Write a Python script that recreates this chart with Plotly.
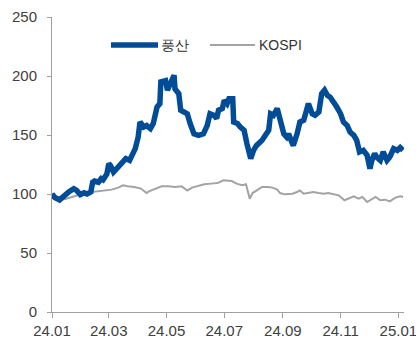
import plotly.graph_objects as go

# 풍산 (indexed)
ps_dates = ["2024-01-01","2024-01-04","2024-01-09","2024-01-12","2024-01-16","2024-01-19","2024-01-24","2024-01-27",
            "2024-01-31","2024-02-04","2024-02-07","2024-02-11","2024-02-13","2024-02-15","2024-02-19","2024-02-22",
            "2024-02-24","2024-02-28","2024-03-01","2024-03-03","2024-03-06","2024-03-09","2024-03-13","2024-03-16",
            "2024-03-19","2024-03-23","2024-03-26","2024-03-29","2024-04-01","2024-04-03","2024-04-07","2024-04-10",
            "2024-04-14","2024-04-17","2024-04-21","2024-04-24","2024-04-25","2024-04-30","2024-05-02","2024-05-05",
            "2024-05-09","2024-05-10","2024-05-14","2024-05-16","2024-05-19","2024-05-23","2024-05-26","2024-05-30",
            "2024-06-04","2024-06-09","2024-06-13","2024-06-16","2024-06-20","2024-06-23","2024-06-25","2024-06-29",
            "2024-07-01","2024-07-04","2024-07-06","2024-07-10","2024-07-11","2024-07-15","2024-07-18","2024-07-22",
            "2024-07-25","2024-07-29","2024-08-01","2024-08-04","2024-08-10","2024-08-13","2024-08-17","2024-08-19",
            "2024-08-22","2024-08-26","2024-08-29","2024-09-02","2024-09-05","2024-09-07","2024-09-11","2024-09-12",
            "2024-09-16","2024-09-19","2024-09-23","2024-09-26","2024-09-28","2024-10-02","2024-10-05","2024-10-09",
            "2024-10-12","2024-10-15","2024-10-18","2024-10-21","2024-10-25","2024-10-28","2024-11-01","2024-11-04",
            "2024-11-08","2024-11-11","2024-11-15","2024-11-18","2024-11-21","2024-11-25","2024-11-29","2024-12-02",
            "2024-12-04","2024-12-07","2024-12-09","2024-12-13","2024-12-16","2024-12-20","2024-12-23","2024-12-27",
            "2024-12-31","2025-01-03","2025-01-06"]
ps_values = [100,97,95,97,101,102,104.5,103,
             99.5,101,100,101.7,110,111,110,113,
             112,117,125.7,124,118.6,121.5,125.7,127,
             130,128.5,134,138.5,148,161,156.8,158,
             155.4,159.7,173.7,176.6,195,196,188,193.5,
             200.6,189,185,171,169.5,168,159.7,151,
             149.7,151,158,168,166.7,164,171,172.4,
             179.4,176.6,180.8,180.8,161,159.7,156.8,154,
             142.7,130,137,141,145.5,149.7,154,168,
             166.7,172.4,162.5,151,148.3,151,142.7,141.3,
             151,161,162.5,171,176.6,168,166.7,169.5,
             185,188,183.6,182,178,173.7,168,161,
             158,152.5,149.7,145.5,135.6,137,132.8,121.5,
             128.5,134.2,131.4,128.5,135.6,128.5,131.4,138.5,
             137,139.3,137]

# KOSPI (indexed)
ks_dates = ["2024-01-01","2024-01-06","2024-01-11","2024-01-16","2024-01-22","2024-01-29","2024-02-05","2024-02-12",
            "2024-02-19","2024-02-26","2024-03-04","2024-03-11","2024-03-16","2024-03-21","2024-03-28","2024-04-04",
            "2024-04-10","2024-04-13","2024-04-19","2024-04-26","2024-05-03","2024-05-10","2024-05-17","2024-05-23",
            "2024-05-28","2024-06-03","2024-06-10","2024-06-17","2024-06-24","2024-06-30","2024-07-05","2024-07-09",
            "2024-07-14","2024-07-20","2024-07-24","2024-07-28","2024-07-31","2024-08-05","2024-08-10","2024-08-16",
            "2024-08-21","2024-08-26","2024-08-29","2024-09-03","2024-09-11","2024-09-16","2024-09-19","2024-09-23",
            "2024-09-28","2024-10-03","2024-10-09","2024-10-14","2024-10-19","2024-10-25","2024-10-30","2024-11-05",
            "2024-11-09","2024-11-15","2024-11-20","2024-11-24","2024-11-29","2024-12-04","2024-12-08","2024-12-13",
            "2024-12-18","2024-12-23","2024-12-29","2025-01-03","2025-01-06"]
ks_values = [100.3,97.5,95.2,96,97.5,99.7,100.8,101.7,
             102.5,103,103.7,105.4,107.4,106.5,106,104.6,
             100.8,102.5,104.6,106.5,106.5,106,106.5,103,
             105.4,106.5,108.2,108.8,109.3,111.6,111.6,111,
             108.8,107.4,108.2,96,100.8,103.7,106,106,
             105.4,103.7,100.8,99.7,100.3,101.7,103,100.3,
             100.8,101.7,100.8,100.3,100.8,99.7,98.9,94.7,
             96,98,96,97.5,93.2,96,97.5,94.7,
             95.2,93.8,96.9,98,97.5]

series_names = ["풍산", "KOSPI"]
series_colors = ["#004C97", "#A3A3A3"]
series_widths = [5.5, 2]

x_ticks = ["2024-01-01","2024-03-01","2024-05-01","2024-07-01","2024-09-01","2024-11-01","2025-01-01"]
x_labels = ["24.01","24.03","24.05","24.07","24.09","24.11","25.01"]
y_ticks = [0, 50, 100, 150, 200, 250]

fig = go.Figure()
fig.add_trace(go.Scatter(x=ks_dates, y=ks_values, name=series_names[1], mode="lines",
                         line=dict(color=series_colors[1], width=series_widths[1]), showlegend=False))
fig.add_trace(go.Scatter(x=ps_dates, y=ps_values, name=series_names[0], mode="lines",
                         line=dict(color=series_colors[0], width=series_widths[0]), showlegend=False))

font = "Liberation Sans, Arial, sans-serif"

# manual legend (layout only), paper coordinates
L, R, T, B = 52, 12, 17, 28
W, H = 416, 340
pw, ph = W - L - R, H - T - B
def px(x):
    return (x - L) / pw
def py(y):
    return (H - B - y) / ph

legend_items = [
    (111, 158, 160),  # line start, line end, text start (pixels)
    (210, 255, 258),
]
shapes = []
annotations = []
for (x0, x1, tx), name, col, w in zip(legend_items, series_names, series_colors, series_widths):
    shapes.append(dict(type="line", xref="paper", yref="paper",
                       x0=px(x0), x1=px(x1), y0=py(45), y1=py(45),
                       line=dict(color=col, width=w)))
    annotations.append(dict(text=name, xref="paper", yref="paper",
                            x=px(tx), y=py(45), xanchor="left", yanchor="middle",
                            showarrow=False, borderpad=0,
                            font=dict(family=font, size=14, color="#333333")))

fig.update_layout(
    width=W, height=H,
    margin=dict(l=L, r=R, t=T, b=B),
    plot_bgcolor="white", paper_bgcolor="white",
    font=dict(family=font, size=15, color="#404040"),
    showlegend=False,
    shapes=shapes,
    annotations=annotations,
    xaxis=dict(type="date", range=["2024-01-01", "2025-01-07"],
               tickvals=x_ticks, ticktext=x_labels, automargin=False,
               ticklabeloverflow="allow",
               showgrid=False, zeroline=False,
               showline=True, linecolor="#A0A0A0", linewidth=1,
               ticks="outside", ticklen=5, tickcolor="#A0A0A0"),
    yaxis=dict(range=[0, 250], tickvals=y_ticks, automargin=False,
               ticklabelstandoff=7,
               showgrid=False, zeroline=False,
               showline=True, linecolor="#A0A0A0", linewidth=1,
               ticks="outside", ticklen=4, tickcolor="#A0A0A0"),
)

fig.write_html("out.html")
